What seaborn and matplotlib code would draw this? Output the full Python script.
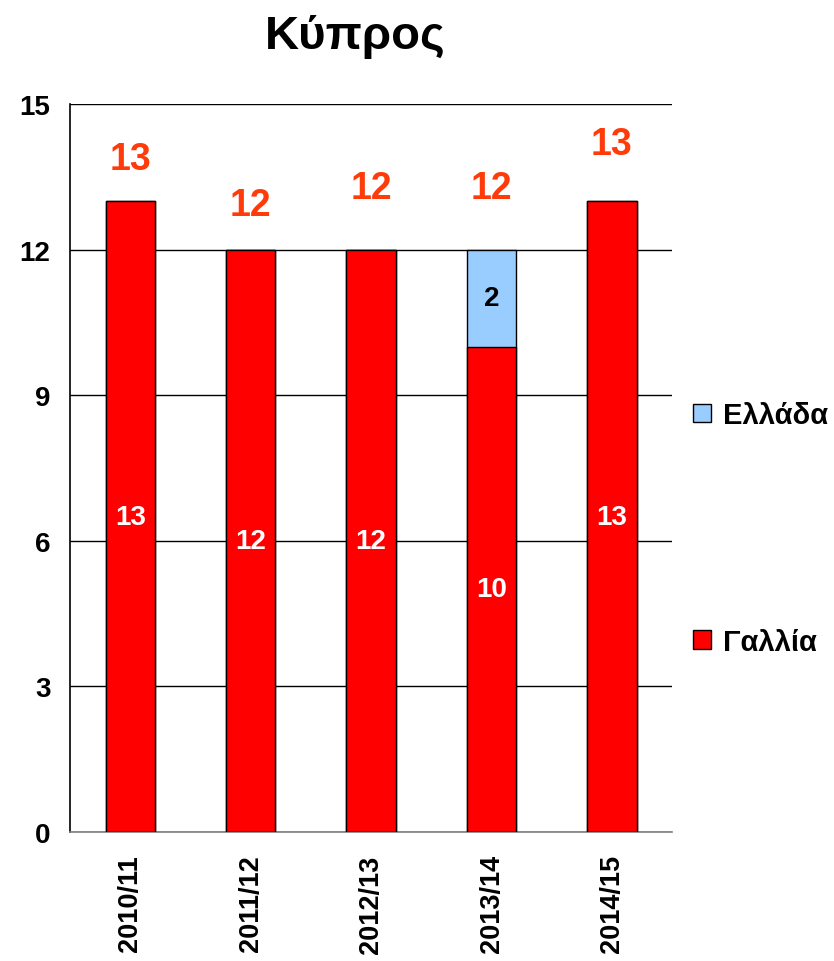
import pandas as pd
import matplotlib
matplotlib.use("Agg")
import matplotlib.pyplot as plt
import matplotlib.patches as mpatches
import seaborn as sns

seasons = ['2010/11', '2011/12', '2012/13', '2013/14', '2014/15']
gallia = [13, 12, 12, 10, 13]
ellada = [0, 0, 0, 2, 0]
# how far above each bar top the total label sits (data units)
label_lift = [0.87, 0.91, 1.26, 1.26, 1.18]

sns.set_theme(style="white")
plt.rcParams['font.family'] = ['Liberation Sans', 'DejaVu Sans']
plt.rcParams['font.weight'] = 'bold'
plt.rcParams['text.color'] = 'black'
plt.rcParams['xtick.color'] = 'black'
plt.rcParams['ytick.color'] = 'black'
plt.rcParams['axes.labelcolor'] = 'black'

c_red = '#FF0000'
c_blue = '#99CCFF'
c_total = '#FF3B0A'

df = pd.DataFrame({'season': seasons, 'Γαλλία': gallia, 'Ελλάδα': ellada})
df['total'] = df['Γαλλία'] + df['Ελλάδα']

fig = plt.figure(figsize=(8.34, 9.62), dpi=100)
ax = fig.add_axes([0.084, 0.134, 0.722, 0.757])

# stacked: draw totals in blue, then the red part over it
sns.barplot(data=df, x='season', y='total', color=c_blue, width=0.41,
            edgecolor='black', linewidth=1, saturation=1, ax=ax, zorder=3)
sns.barplot(data=df, x='season', y='Γαλλία', color=c_red, width=0.41,
            edgecolor='black', linewidth=1, saturation=1, ax=ax, zorder=3)

for i, row in df.iterrows():
    ax.text(i, row['Γαλλία'] / 2, str(row['Γαλλία']), ha='center', va='center',
            color='white', fontsize=20, fontweight='bold', zorder=5)
    if row['Ελλάδα'] > 0:
        ax.text(i, row['Γαλλία'] + row['Ελλάδα'] / 2, str(row['Ελλάδα']),
                ha='center', va='center', color='black', fontsize=20,
                fontweight='bold', zorder=5)
    ax.text(i, row['total'] + label_lift[i], str(row['total']), ha='center',
            va='center', color=c_total, fontsize=27, fontweight='bold', zorder=5)

ax.set_ylim(0, 15)
ax.set_yticks(range(0, 16, 3))
ax.set_xlim(-0.5, 4.5)
ax.yaxis.grid(True, color='black', linewidth=1)
ax.set_axisbelow(True)
ax.tick_params(axis='y', length=0, pad=14, labelsize=20)
ax.tick_params(axis='x', length=0, pad=16, labelsize=19.5, rotation=90)
for lab in ax.get_xticklabels() + ax.get_yticklabels():
    lab.set_fontweight('bold')
ax.set_xlabel('')
ax.set_ylabel('')

for s in ['top', 'right']:
    ax.spines[s].set_visible(False)
ax.spines['left'].set_color('black')
ax.spines['left'].set_linewidth(1.2)
ax.spines['bottom'].set_color('#808080')
ax.spines['bottom'].set_linewidth(1.2)

ax.set_title('Κύπρος', fontsize=34, fontweight='bold', pad=40, x=0.473)

handles = [mpatches.Patch(facecolor=c_blue, edgecolor='black', label='Ελλάδα'),
           mpatches.Patch(facecolor=c_red, edgecolor='black', label='Γαλλία')]
leg = ax.legend(handles=handles, loc='center left', bbox_to_anchor=(1.035, 0.417),
                frameon=False, fontsize=21, labelspacing=6.8, handlelength=0.62,
                handleheight=0.62, handletextpad=0.4, borderpad=0, borderaxespad=0)
for t in leg.get_texts():
    t.set_fontweight('bold')

fig.savefig('out.png', dpi=100)
